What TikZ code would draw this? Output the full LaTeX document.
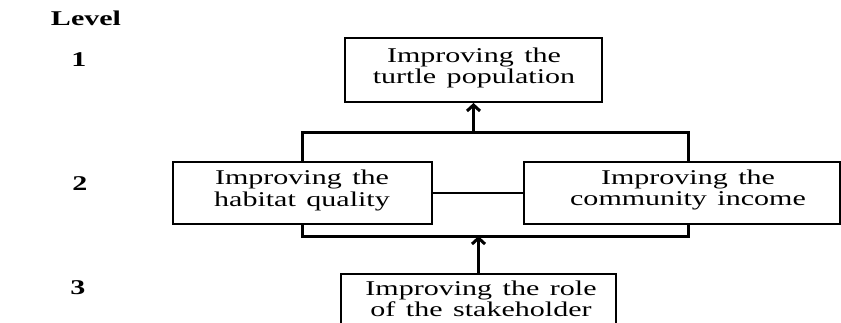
\documentclass[tikz,border=0pt]{standalone}
\usepackage{fontspec}
\setmainfont{Liberation Serif}[FakeStretch=1.43,WordSpace=1.4]
\usetikzlibrary{arrows.meta}
\begin{document}
\begin{tikzpicture}[x=1pt,y=-1pt,
  box/.style={draw,line width=1.9pt,rectangle,inner sep=0pt},
  txt/.style={inner sep=0pt,align=center,anchor=north,
    font=\fontsize{21}{21.5}\selectfont},
  lvl/.style={font=\fontsize{21}{21}\selectfont\bfseries,inner sep=0pt,anchor=base},
  bracket/.style={line width=3pt,line cap=rect},
  arr/.style={line width=3pt,-{Straight Barb[length=6pt,width=13pt,line width=3pt]}}]
\useasboundingbox (0,0) rectangle (841,322);
\clip (0,0) rectangle (841,322);
\node[lvl] (level) at (86,25.5) {Level};
\node[lvl] (l1) at (79,66.7) {1};
\node[lvl] (l2) at (80,190) {2};
\node[lvl] (l3) at (78,294) {3};
% boxes
\node[box,minimum width=257pt,minimum height=64pt] (top) at (473.5,70) {};
\node[box,minimum width=259pt,minimum height=62pt] (left) at (302.5,193) {};
\node[box,minimum width=316pt,minimum height=62pt] (right) at (682,193) {};
\node[box,minimum width=275pt,minimum height=64pt,anchor=north] (bottom) at (478.5,273) {};
% texts
\node[txt] (toptxt) at (474,47.7) {Improving the\\turtle population};
\node[txt] (lefttxt) at (302,170) {Improving the\\habitat quality};
\node[txt] (righttxt) at (688,169.5) {Improving the\\community income};
\node[txt] (bottomtxt) at (481,280.5) {Improving the role\\of the stakeholder};
% connectors
\coordinate (ubl) at (302,132);
\coordinate (ubr) at (688,132);
\coordinate (lbl) at (302,236);
\coordinate (lbr) at (688,236);
\draw[bracket] (left.north -| ubl) -- (ubl) -- (ubr) -- (right.north -| ubr);
\draw[bracket] (left.south -| lbl) -- (lbl) -- (lbr) -- (right.south -| lbr);
\draw[line width=1.9pt] (left.east) -- (right.west);
\draw[arr] (top.south |- ubl) -- (top.south);
\draw[arr] (bottom.north) -- (bottom.north |- lbl);
\end{tikzpicture}
\end{document}
